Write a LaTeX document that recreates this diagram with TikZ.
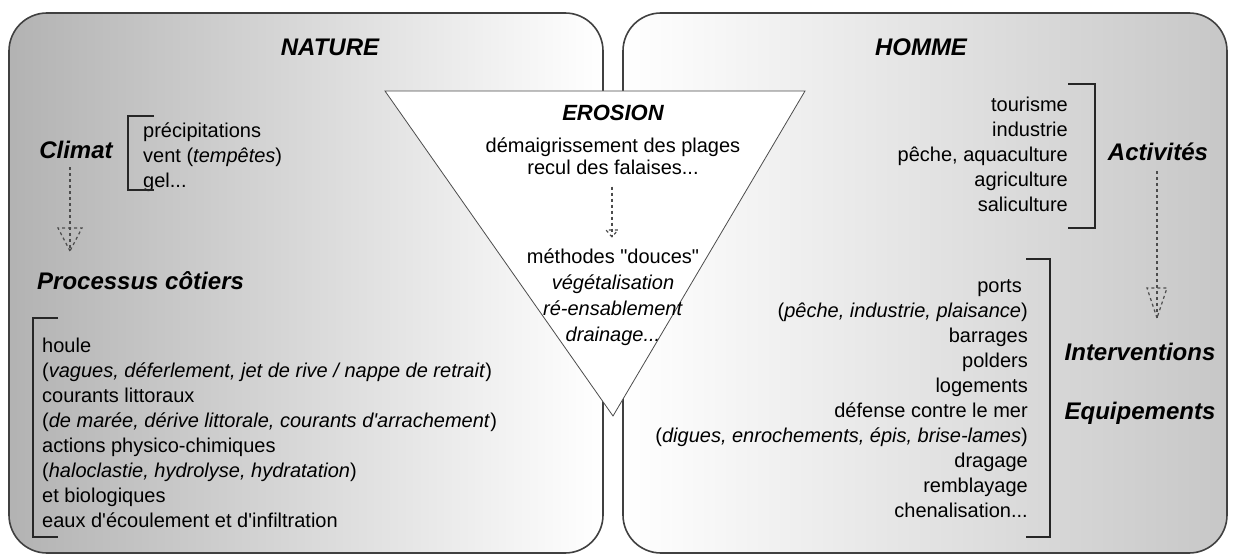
\documentclass[tikz,border=0pt]{standalone}
\usepackage{fontspec}
\setmainfont{Liberation Sans}[Ligatures=TeXOff]
\usetikzlibrary{positioning}

\tikzset{
  panel/.style={draw=black!75, line width=1.6pt, rounded corners=38pt},
  titre/.style={font=\fontsize{24}{28}\selectfont\bfseries\itshape, inner sep=0pt},
  liste/.style={font=\fontsize{20}{25}\selectfont, inner sep=0pt},
  crochet/.style={draw=black!85, line width=1.3pt},
  pointille/.style={draw=black!70, line width=1.2pt, dash pattern=on 3pt off 3pt},
}

% dashed open head: tip, half width, length
\newcommand{\pointe}[3]{\draw[pointille] (#1) -- ++(-#2,-#3) -- ++({2*#2},0) -- cycle;}

\begin{document}
\begin{tikzpicture}[x=1pt, y=-1pt]
\useasboundingbox (0,0) rectangle (1235,556);

% the two panels
\draw[panel, left color=black!30, right color=white] (9,13) rectangle (603,553);
\draw[panel, left color=white, right color=black!22] (623,13) rectangle (1227,553);

% erosion triangle on top
\draw[fill=white, draw=black!70, line width=0.8pt] (385,91) -- (805,91) -- (613,416) -- cycle;

% NATURE
\node[titre] (nature) at (330,47) {NATURE};
\node[titre] (climat) at (76,150) {Climat};
\node[liste, align=left, anchor=west] (meteo) at (143,157) {précipitations\\vent (\textit{tempêtes})\\gel...};
\draw[crochet] (154,116) -- (128,116) -- (128,190) -- (154,190);
\node[titre, anchor=west] (processus) at (37,281) {Processus côtiers};
\node[liste, align=left, anchor=west] (agents) at (42,433) {houle\\
  (\textit{vagues, déferlement, jet de rive / nappe de retrait})\\
  courants littoraux\\
  (\textit{de marée, dérive littorale, courants d'arrachement})\\
  actions physico-chimiques\\
  (\textit{haloclastie, hydrolyse, hydratation})\\
  et biologiques\\
  eaux d'écoulement et d'infiltration};
\draw[crochet] (58,318) -- (33,318) -- (33,537) -- (58,537);

\coordinate (p1) at (70,251);
\draw[pointille] (p1 |- climat.south) ++(0,8) -- (p1);
\pointe{p1}{12}{23}

% EROSION
\node[titre, font=\fontsize{22}{26}\selectfont\bfseries\itshape] (erosion) at (613,113) {EROSION};
\node[liste, align=center, font=\fontsize{20}{22}\selectfont] (degats) at (613,156) {démaigrissement des plages\\recul des falaises...};
\node[liste, align=center, font=\fontsize{20}{26}\selectfont] (douces) at (613,297) {méthodes "douces"\\\textit{végétalisation}\\\textit{ré-ensablement}\\\textit{drainage...}};
\coordinate (p2) at (612,237);
\draw[pointille] (p2 |- degats.south) ++(0,12) -- (p2);
\pointe{p2}{6}{7}

% HOMME
\node[titre] (homme) at (921,47) {HOMME};
\node[liste, align=right, anchor=east] (activ) at (1068,154) {tourisme\\industrie\\pêche, aquaculture\\agriculture\\saliculture};
\draw[crochet] (1068,84) -- (1095,84) -- (1095,228) -- (1068,228);
\node[titre] (activites) at (1158,152) {Activités};
\node[liste, align=right, anchor=east] (equip) at (1028,399) {ports\hspace*{6pt}\\
  (\textit{pêche, industrie, plaisance})\\
  barrages\\
  polders\\
  logements\\
  défense contre le mer\hspace*{6pt}\\
  (\textit{digues, enrochements, épis, brise-lames})\\
  dragage\\
  remblayage\\
  chenalisation...};
\draw[crochet] (1026,259) -- (1050,259) -- (1050,537) -- (1026,537);
\node[titre] (interv) at (1140,352) {Interventions};
\node[titre] (equipem) at (1140,413) {Equipements};

\coordinate (p3) at (1157,318);
\draw[pointille] (p3 |- activites.south) ++(0,10) -- (p3);
\pointe{p3}{10}{30}

\end{tikzpicture}
\end{document}
